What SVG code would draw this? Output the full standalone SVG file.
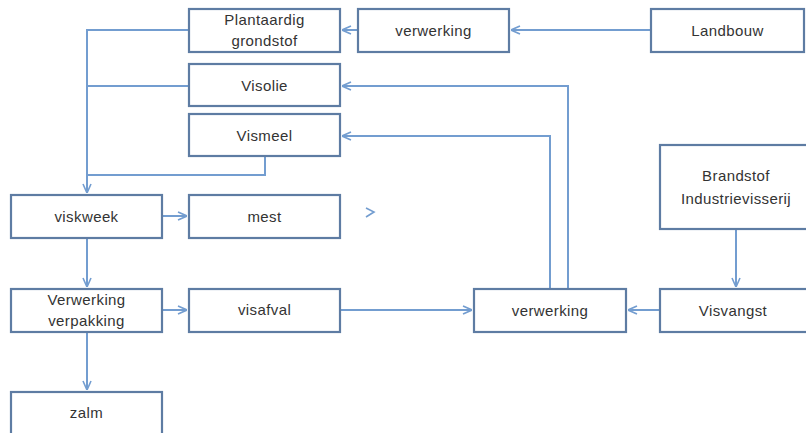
<svg xmlns="http://www.w3.org/2000/svg" width="806" height="433" viewBox="0 0 806 433">
<style>
.box{fill:#fff;stroke:#5e7ca3;stroke-width:2.2}
.t{font-family:"Liberation Sans",Arial,sans-serif;font-size:15px;fill:#333;text-anchor:middle;letter-spacing:0.4px}
.c{fill:none;stroke:#739dd0;stroke-width:2}
.ah{fill:none;stroke:#739dd0;stroke-width:1.6}
</style>
<defs>
<marker id="a" viewBox="0 0 10 10" refX="10" refY="5" markerWidth="10" markerHeight="10" markerUnits="userSpaceOnUse" orient="auto">
<path d="M1,1 L10,5 L1,9" fill="none" stroke="#739dd0" stroke-width="1.6"/>
</marker>
</defs>
<g id="connectors">
<path class="c" d="M651,30 H511" marker-end="url(#a)"/>
<path class="c" d="M358,30 H342" marker-end="url(#a)"/>
<path class="c" d="M189,30 H87 V193" marker-end="url(#a)"/>
<path class="c" d="M189,86 H87"/>
<path class="c" d="M265,156 V175 H87"/>
<path class="c" d="M568,289 V86 H342" marker-end="url(#a)"/>
<path class="c" d="M550,289 V136 H342" marker-end="url(#a)"/>
<path class="c" d="M162,216 H187" marker-end="url(#a)"/>
<path class="c" d="M87,238 V287" marker-end="url(#a)"/>
<path class="c" d="M162,310 H187" marker-end="url(#a)"/>
<path class="c" d="M340,310 H472" marker-end="url(#a)"/>
<path class="c" d="M660,310 H628" marker-end="url(#a)"/>
<path class="c" d="M736,229 V287" marker-end="url(#a)"/>
<path class="c" d="M87,332 V390" marker-end="url(#a)"/>
<path class="ah" d="M366,208 L374,212 L366,217"/>
</g>
<g id="plantaardig"><rect class="box" x="189" y="9" width="151" height="43"/><text class="t" x="264.5" y="25">Plantaardig</text><text class="t" x="264.5" y="46">grondstof</text></g>
<g id="verwerking-top"><rect class="box" x="358" y="9" width="151" height="43"/><text class="t" x="433.5" y="36">verwerking</text></g>
<g id="landbouw"><rect class="box" x="651" y="9" width="153" height="43"/><text class="t" x="727.5" y="36">Landbouw</text></g>
<g id="visolie"><rect class="box" x="189" y="64" width="151" height="42"/><text class="t" x="264.5" y="91">Visolie</text></g>
<g id="vismeel"><rect class="box" x="189" y="114" width="151" height="42"/><text class="t" x="264.5" y="141">Vismeel</text></g>
<g id="brandstof"><rect class="box" x="660" y="145" width="150" height="84"/><text class="t" x="736" y="181">Brandstof</text><text class="t" x="736" y="204">Industrievisserij</text></g>
<g id="viskweek"><rect class="box" x="11" y="195" width="151" height="43"/><text class="t" x="86.5" y="222">viskweek</text></g>
<g id="mest"><rect class="box" x="189" y="195" width="151" height="43"/><text class="t" x="264.5" y="222">mest</text></g>
<g id="verwerking-verpakking"><rect class="box" x="11" y="289" width="151" height="43"/><text class="t" x="86.5" y="305">Verwerking</text><text class="t" x="86.5" y="326">verpakking</text></g>
<g id="visafval"><rect class="box" x="189" y="289" width="151" height="43"/><text class="t" x="264.5" y="315">visafval</text></g>
<g id="verwerking-mid"><rect class="box" x="474" y="289" width="152" height="43"/><text class="t" x="550" y="316">verwerking</text></g>
<g id="visvangst"><rect class="box" x="660" y="289" width="150" height="43"/><text class="t" x="733" y="316">Visvangst</text></g>
<g id="zalm"><rect class="box" x="11" y="392" width="151" height="50"/><text class="t" x="86.5" y="418">zalm</text></g>
</svg>
